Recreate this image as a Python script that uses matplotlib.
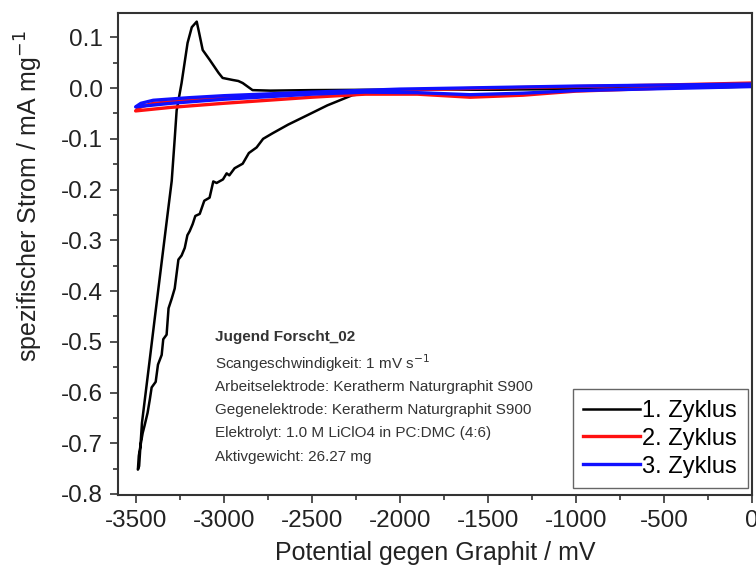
import matplotlib
matplotlib.use("Agg")
from matplotlib import pyplot as plt

plt.rcParams['font.family'] = ['Liberation Sans', 'DejaVu Sans']
plt.rcParams['axes.unicode_minus'] = False

# cycle 1: cathodic scan from 0 down to the minimum, then back up through the peak
x1 = [0, -500, -1000, -1500, -1800, -2000, -2269, -2411, -2528, -2634, -2722,
      -2776, -2813, -2857, -2892, -2938, -2968, -2983, -3004, -3040, -3059,
      -3080, -3110, -3136, -3161, -3176, -3193, -3206, -3221, -3239, -3257,
      -3278, -3295, -3313, -3324, -3343, -3352, -3373, -3386, -3409, -3419,
      -3432, -3449, -3460, -3472, -3482, -3487, -3480,
      -3464, -3425, -3390, -3351, -3319, -3295, -3278, -3267, -3239, -3205,
      -3181, -3153, -3140, -3119, -3080, -3029, -3006, -2949, -2917, -2892,
      -2836, -2735, -2500, -2000, -1500, -1000, -500, 0]
y1 = [0.003, 0.0, -0.002, -0.003, -0.001, -0.004, -0.014, -0.034, -0.054, -0.072, -0.089,
      -0.100, -0.117, -0.128, -0.149, -0.158, -0.172, -0.168, -0.180, -0.187, -0.184,
      -0.216, -0.222, -0.248, -0.252, -0.268, -0.282, -0.290, -0.315, -0.330, -0.338,
      -0.395, -0.415, -0.434, -0.486, -0.495, -0.526, -0.545, -0.579, -0.590, -0.613,
      -0.640, -0.665, -0.680, -0.704, -0.725, -0.752, -0.745,
      -0.660, -0.550, -0.450, -0.340, -0.250, -0.183, -0.100, -0.044, 0.010, 0.089,
      0.120, 0.131, 0.110, 0.075, 0.056, 0.030, 0.020, 0.016, 0.014, 0.010,
      -0.004, -0.005, -0.004, -0.003, -0.002, 0.0, 0.001, 0.003]

x2 = [0, -500, -1000, -1300, -1600, -1900, -2200, -2500, -3000, -3300, -3500,
      -3480, -3400, -3200, -3000, -2500, -2000, -1500, -1000, -500, 0]
y2 = [0.006, 0.0, -0.006, -0.014, -0.018, -0.012, -0.012, -0.018, -0.030, -0.038, -0.045,
      -0.038, -0.030, -0.024, -0.019, -0.010, -0.004, 0.0, 0.003, 0.006, 0.010]

x3 = [0, -500, -1000, -1300, -1600, -1900, -2200, -2500, -3000, -3300, -3500,
      -3470, -3400, -3200, -3000, -2500, -2000, -1500, -1000, -500, 0]
y3 = [0.003, -0.001, -0.005, -0.010, -0.013, -0.009, -0.008, -0.012, -0.022, -0.030, -0.037,
      -0.030, -0.024, -0.019, -0.015, -0.008, -0.002, 0.001, 0.004, 0.006, 0.008]

labels = ["1. Zyklus", "2. Zyklus", "3. Zyklus"]
x_major = list(range(-3500, 1, 500))
y_major = [-0.8, -0.7, -0.6, -0.5, -0.4, -0.3, -0.2, -0.1, 0.0, 0.1]
info_title = "Jugend Forscht_02"
info_lines = ["Scangeschwindigkeit: 1 mV s$^{-1}$",
              "Arbeitselektrode: Keratherm Naturgraphit S900",
              "Gegenelektrode: Keratherm Naturgraphit S900",
              "Elektrolyt: 1.0 M LiClO4 in PC:DMC (4:6)",
              "Aktivgewicht: 26.27 mg"]

fig = plt.figure(figsize=(7.56, 5.75), dpi=100)
ax = fig.add_axes([118 / 756, 80 / 575, 634 / 756, 482 / 575])

ax.plot(x1, y1, color="black", lw=1.8, label=labels[0])
ax.plot(x2, y2, color="#ff1010", lw=2.4, label=labels[1])
ax.plot(x3, y3, color="#1010ff", lw=2.4, label=labels[2])

ax.set_xticks(x_major)
ax.set_xticks(range(-3750, 1, 250), minor=True)
ax.set_yticks(y_major)
ax.set_yticks([-0.8 + 0.05 * i for i in range(20)], minor=True)
ax.set_yticklabels(["%.1f" % v for v in y_major])
ax.set_xlim(-3600, 0)
ax.set_ylim(-0.802, 0.148)

for s in ax.spines.values():
    s.set_linewidth(1.5)
    s.set_color("#333333")
ax.tick_params(which="major", length=6, width=1.2, color="#333333",
               labelsize=17.5, labelcolor="#222222", direction="out", pad=5)
ax.tick_params(which="minor", length=3.5, width=1.2, color="#333333", direction="out")

ax.set_xlabel("Potential gegen Graphit / mV", fontsize=18, color="#222222", labelpad=6)
ax.set_ylabel("spezifischer Strom / mA mg$^{-1}$", fontsize=18, color="#222222")
ax.yaxis.set_label_coords(-0.115, 0.62)

ax.text(215 / 756, 1 - 337 / 575, info_title, transform=fig.transFigure,
        fontsize=11, fontweight="bold", color="#333333", va="center")
for i, line in enumerate(info_lines):
    ax.text(215 / 756, 1 - (363 + 23.5 * i) / 575, line, transform=fig.transFigure,
            fontsize=11, color="#333333", va="center")

leg = ax.legend(loc="lower right", bbox_to_anchor=(0.993, 0.014), fontsize=17,
                handlelength=2.4, handletextpad=0.1, labelspacing=0.25,
                borderpad=0.45, borderaxespad=0, fancybox=False, framealpha=1,
                edgecolor="#666666")
leg.get_frame().set_linewidth(1.0)

fig.savefig("out.png", dpi=100)
